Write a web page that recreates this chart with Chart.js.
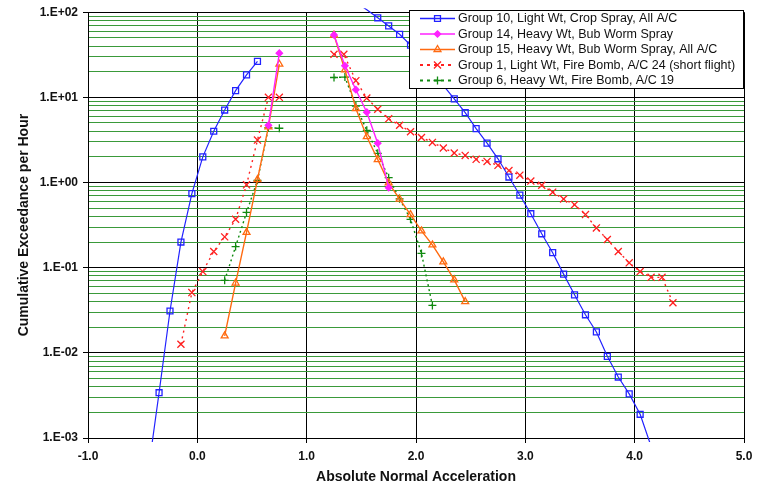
<!DOCTYPE html>
<html>
<head>
<meta charset="utf-8">
<script src="https://cdn.jsdelivr.net/npm/chart.js@4/dist/chart.umd.min.js"></script>
<style>
  body { margin: 0; background: #fff; }
  #wrap { width: 759px; height: 486px; }
</style>
</head>
<body>
<div id="wrap"><canvas id="chart" width="759" height="486"></canvas></div>
<script>
// Group 10, Light Wt, Crop Spray, All A/C
const g10LeftX  = [-0.45, -0.35, -0.25, -0.15, -0.05, 0.05, 0.15, 0.25, 0.35, 0.45, 0.55];
const g10LeftY  = [0.0004, 0.0034, 0.031, 0.2, 0.74, 2.0, 4.0, 7.1, 12, 18.4, 26.5];
const g10RightX = [1.45, 1.55, 1.65, 1.75, 1.85, 1.95, 2.35, 2.45, 2.55, 2.65, 2.75, 2.85, 2.95, 3.05, 3.15, 3.25, 3.35, 3.45, 3.55, 3.65, 3.75, 3.85, 3.95, 4.05, 4.15];
const g10RightY = [130, 107, 86, 69, 55, 41, 9.6, 6.6, 4.3, 2.9, 1.9, 1.16, 0.71, 0.43, 0.25, 0.15, 0.084, 0.048, 0.028, 0.0176, 0.0091, 0.0052, 0.0033, 0.0019, 0.0008];

// Group 14, Heavy Wt, Bub Worm Spray
const g14LeftX  = [0.65, 0.75];
const g14LeftY  = [4.7, 33];
const g14RightX = [1.25, 1.35, 1.45, 1.55, 1.65, 1.75];
const g14RightY = [54, 23.5, 12.3, 6.7, 2.9, 0.87];

// Group 15, Heavy Wt, Bub Worm Spray, All A/C
const g15LeftX  = [0.25, 0.35, 0.45, 0.55, 0.65, 0.75];
const g15LeftY  = [0.0158, 0.066, 0.26, 1.08, 4.5, 24.5];
const g15RightX = [1.25, 1.35, 1.45, 1.55, 1.65, 1.75, 1.85, 1.95, 2.05, 2.15, 2.25, 2.35, 2.45];
const g15RightY = [54, 21, 7.4, 3.45, 1.86, 0.99, 0.64, 0.42, 0.27, 0.185, 0.117, 0.072, 0.040];

// Group 1, Light Wt, Fire Bomb, A/C 24 (short flight)
const g1LeftX  = [-0.15, -0.05, 0.05, 0.15, 0.25, 0.35, 0.45, 0.55, 0.65, 0.75];
const g1LeftY  = [0.0126, 0.051, 0.09, 0.155, 0.23, 0.37, 0.94, 3.15, 10, 10];
const g1RightX = [1.25, 1.34, 1.45, 1.55, 1.65, 1.75, 1.85, 1.95, 2.05, 2.15, 2.25, 2.35, 2.45, 2.55, 2.65, 2.75, 2.85, 2.95, 3.05, 3.15, 3.25, 3.35, 3.45, 3.55, 3.65, 3.75, 3.85, 3.95, 4.05, 4.15, 4.25, 4.35];
const g1RightY = [32, 32, 15.7, 9.8, 7.25, 5.6, 4.7, 3.95, 3.38, 2.96, 2.54, 2.22, 2.08, 1.87, 1.77, 1.59, 1.38, 1.22, 1.04, 0.93, 0.77, 0.64, 0.55, 0.42, 0.293, 0.214, 0.155, 0.114, 0.09, 0.077, 0.077, 0.0387];

// Group 6, Heavy Wt, Fire Bomb, A/C 19
const g6LeftX  = [0.25, 0.35, 0.45, 0.55, 0.65, 0.75];
const g6LeftY  = [0.071, 0.177, 0.445, 1.06, 4.4, 4.34];
const g6RightX = [1.25, 1.35, 1.45, 1.55, 1.65, 1.75, 1.85, 1.95, 2.05, 2.15];
const g6RightY = [17.1, 17.3, 7.9, 4.1, 2.2, 1.14, 0.644, 0.37, 0.147, 0.036];

const xTicks = [-1, 0, 1, 2, 3, 4, 5];
const yDecades = [-3, -2, -1, 0, 1, 2];

function branches(lx, ly, rx, ry) {
    const left = lx.map((x, i) => ({ x: x, y: ly[i] }));
    const right = rx.map((x, i) => ({ x: x, y: ry[i] }));
    // null point breaks the line between the two branches
    return left.concat([{ x: 1.0, y: null }], right);
}

function radiusInRange(r) {
    return ctx => {
        const v = ctx.raw ? ctx.raw.y : null;
        return (v == null || v > 100 || v < 0.001) ? 0 : r;
    };
}

const series = [
    { label: 'Group 10, Light Wt, Crop Spray, All A/C', data: branches(g10LeftX, g10LeftY, g10RightX, g10RightY),
      color: '#2222ff', style: 'rect', radius: 4.2, fill: false, dash: [], width: 1.2 },
    { label: 'Group 14, Heavy Wt, Bub Worm Spray', data: branches(g14LeftX, g14LeftY, g14RightX, g14RightY),
      color: '#ff22ff', style: 'rectRot', radius: 3.2, fill: true, dash: [], width: 1.4 },
    { label: 'Group 15, Heavy Wt, Bub Worm Spray, All A/C', data: branches(g15LeftX, g15LeftY, g15RightX, g15RightY),
      color: '#ff6a10', style: 'triangle', radius: 4, fill: false, dash: [], width: 1.4 },
    { label: 'Group 1, Light Wt, Fire Bomb, A/C 24 (short flight)', data: branches(g1LeftX, g1LeftY, g1RightX, g1RightY),
      color: '#ff2020', style: 'crossRot', radius: 5, fill: false, dash: [2, 4], width: 1.4 },
    { label: 'Group 6, Heavy Wt, Fire Bomb, A/C 19', data: branches(g6LeftX, g6LeftY, g6RightX, g6RightY),
      color: '#108a10', style: 'cross', radius: 4, fill: false, dash: [2, 3], width: 1.4 }
];

const datasets = series.map(s => ({
    label: s.label,
    data: s.data,
    borderColor: s.color,
    backgroundColor: s.color,
    borderWidth: s.width,
    borderDash: s.dash,
    pointStyle: s.style,
    pointRadius: radiusInRange(s.radius),
    pointBorderColor: s.color,
    pointBackgroundColor: s.fill ? s.color : 'rgba(255,255,255,0)',
    pointBorderWidth: 1.3,
    tension: 0,
    spanGaps: false,
    clip: 4
}));

const gridGreen = '#3a9a3a';

function drawMarker(ctx, s, x, y) {
    if (Chart.helpers && Chart.helpers.drawPoint) {
        ctx.save();
        ctx.setLineDash([]);
        ctx.lineWidth = 1.3;
        ctx.strokeStyle = s.color;
        ctx.fillStyle = s.fill ? s.color : 'rgba(255,255,255,0)';
        Chart.helpers.drawPoint(ctx, { pointStyle: s.style, rotation: 0, radius: s.radius, borderWidth: 1.3 }, x, y);
        ctx.restore();
    }
}

const legendBox = {
    id: 'legendBox',
    afterDatasetsDraw(chart) {
        const ctx = chart.ctx;
        const left = 409.5, top = 10.5, right = 743.5, bottom = 88.5;
        ctx.save();
        ctx.fillStyle = '#fff';
        ctx.fillRect(left, top, right - left, bottom - top);
        ctx.strokeStyle = '#000';
        ctx.lineWidth = 1;
        ctx.strokeRect(left, top, right - left, bottom - top);
        ctx.font = '12.5px "Liberation Sans", Arial, sans-serif';
        ctx.textBaseline = 'middle';
        ctx.textAlign = 'left';
        series.forEach((s, i) => {
            const y = 18.5 + i * 15.5;
            ctx.beginPath();
            ctx.setLineDash(s.dash.length ? [3, 4] : []);
            ctx.lineWidth = s.dash.length ? 2 : 1.4;
            ctx.strokeStyle = s.color;
            ctx.moveTo(420, y);
            ctx.lineTo(455, y);
            ctx.stroke();
            drawMarker(ctx, s, 437.5, y);
            ctx.setLineDash([]);
            ctx.fillStyle = '#111';
            ctx.fillText(s.label, 458, y + 0.5);
        });
        ctx.restore();
    }
};

function expLabel(v) {
    const e = Math.round(Math.log10(v));
    return '1.E' + (e < 0 ? '-' : '+') + String(Math.abs(e)).padStart(2, '0');
}

function isDecade(v) {
    const l = Math.log10(v);
    return Math.abs(l - Math.round(l)) < 1e-9;
}

const ctx = document.getElementById('chart').getContext('2d');
new Chart(ctx, {
    type: 'line',
    data: { datasets: datasets },
    options: {
        responsive: false,
        animation: false,
        layout: { padding: { top: 10, right: 15, left: 0, bottom: 0 } },
        plugins: {
            legend: { display: false },
            tooltip: { enabled: false }
        },
        scales: {
            x: {
                type: 'linear',
                min: -1,
                max: 5,
                afterBuildTicks: scale => { scale.ticks = xTicks.map(v => ({ value: v })); },
                afterFit: scale => { scale.height = 48; },
                grid: { color: '#000', lineWidth: 1, tickLength: 5, tickColor: '#000' },
                border: { display: true, color: '#000', width: 1 },
                ticks: {
                    callback: v => v.toFixed(1),
                    color: '#111',
                    padding: 6,
                    maxRotation: 0,
                    font: { family: '"Liberation Sans", Arial', size: 12, weight: 'bold' }
                },
                title: {
                    display: true,
                    text: 'Absolute Normal Acceleration',
                    color: '#111',
                    padding: { top: 0, bottom: 0 },
                    font: { family: '"Liberation Sans", Arial', size: 14, weight: 'bold' }
                }
            },
            y: {
                type: 'logarithmic',
                min: 0.001,
                max: 100,
                afterBuildTicks: scale => {
                    const t = [];
                    yDecades.forEach(e => {
                        const lim = e === 2 ? 1 : 9;
                        for (let m = 1; m <= lim; m++) t.push({ value: m * Math.pow(10, e) });
                    });
                    scale.ticks = t;
                },
                afterFit: scale => { scale.width = 88; },
                grid: {
                    color: c => isDecade(c.tick.value) ? '#000' : gridGreen,
                    lineWidth: 1,
                    tickLength: 5,
                    tickColor: c => isDecade(c.tick.value) ? '#000' : 'rgba(0,0,0,0)'
                },
                border: { display: true, color: '#000', width: 1 },
                ticks: {
                    autoSkip: false,
                    padding: 5,
                    color: '#111',
                    callback: v => isDecade(v) ? expLabel(v) : '',
                    font: { family: '"Liberation Sans", Arial', size: 12, weight: 'bold' }
                },
                title: {
                    display: true,
                    text: 'Cumulative Exceedance per Hour',
                    color: '#111',
                    padding: { top: 15.5, bottom: 0 },
                    font: { family: '"Liberation Sans", Arial', size: 14, weight: 'bold' }
                }
            }
        }
    },
    plugins: [legendBox]
});
</script>
</body>
</html>
